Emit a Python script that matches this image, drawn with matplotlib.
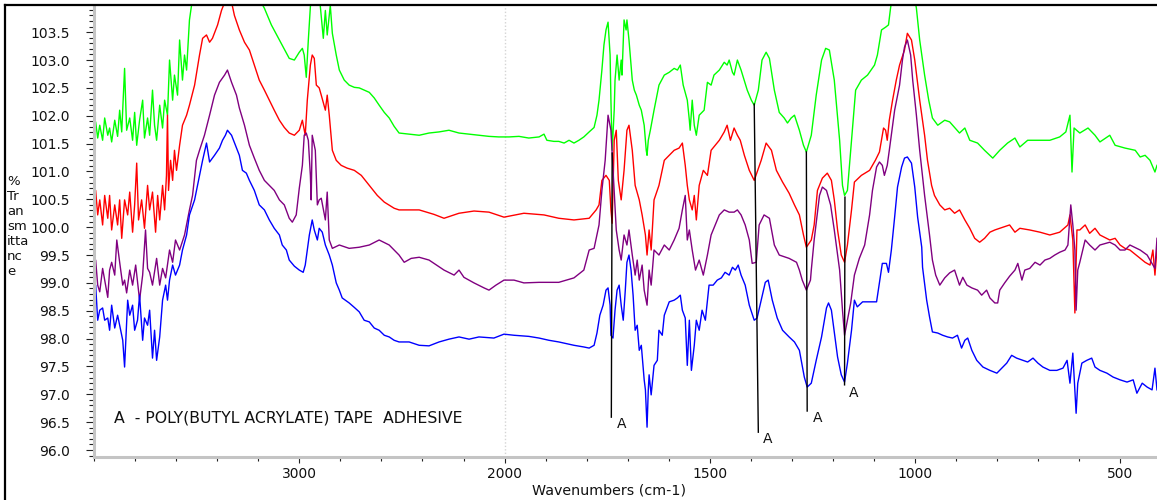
import numpy as np
import matplotlib
matplotlib.use('Agg')
import matplotlib.pyplot as plt
from matplotlib.lines import Line2D
from matplotlib.ticker import MultipleLocator, FixedLocator

plt.rcParams['font.family'] = ['DejaVu Sans']

# (wavenumber cm-1, %T)
GREEN = [(4000,101.74),(3992,101.89),(3982,101.60),(3972,101.83),(3958,101.56),(3948,101.96),(3933,101.65),
 (3924,101.78),(3914,101.53),(3899,101.92),(3885,101.63),(3875,102.10),(3865,101.71),(3851,102.85),(3841,101.74),
 (3826,101.96),(3812,101.56),(3802,102.06),(3792,101.47),(3778,101.92),(3763,102.28),(3754,101.60),(3739,101.96),
 (3729,101.65),(3715,102.46),(3705,101.83),(3695,101.56),(3680,102.19),(3666,101.78),(3656,102.28),(3642,102.01),
 (3632,103.00),(3617,102.28),(3608,102.73),(3593,102.37),(3583,103.36),(3569,102.64),(3559,103.09),(3549,102.82),
 (3535,103.72),(3525,103.98),(3486,104.43),(3340,104.61),(3219,104.25),(3170,103.93),(3136,103.63),(3097,103.36),
 (3049,103.03),(3024,103.00),(3000,103.14),(2985,103.21),(2976,103.09),(2966,102.69),(2956,103.36),(2946,103.98),
 (2937,104.43),(2917,104.43),(2898,103.98),(2883,103.39),(2873,103.89),(2864,103.45),(2849,103.98),(2839,103.48),
 (2820,103.09),(2805,102.82),(2781,102.64),(2757,102.55),(2732,102.51),(2708,102.50),(2684,102.46),(2659,102.42),
 (2635,102.32),(2611,102.19),(2586,102.06),(2562,101.96),(2538,101.81),(2514,101.69),(2465,101.67),(2416,101.65),
 (2368,101.69),(2319,101.71),(2271,101.74),(2222,101.69),(2173,101.67),(2125,101.65),(2076,101.63),(2028,101.62),
 (1989,101.62),(1965,101.63),(1941,101.60),(1916,101.62),(1904,101.67),(1897,101.56),(1880,101.54),(1868,101.54),
 (1855,101.51),(1843,101.56),(1831,101.51),(1819,101.56),(1807,101.62),(1794,101.71),(1782,101.79),(1775,102.01),
 (1770,102.28),(1763,102.82),(1758,103.27),(1753,103.54),(1748,103.68),(1743,103.09),(1741,102.28),(1738,101.38),
 (1733,102.10),(1731,102.64),(1726,103.09),(1721,102.64),(1716,103.00),(1714,102.73),(1709,103.72),(1704,103.54),
 (1702,103.72),(1697,103.36),(1689,102.64),(1684,102.46),(1679,102.37),(1672,102.19),(1667,102.10),(1660,101.83),
 (1655,101.38),(1653,101.29),(1650,101.56),(1645,101.74),(1636,102.10),(1624,102.55),(1611,102.73),(1599,102.78),
 (1587,102.85),(1579,102.82),(1572,102.91),(1565,102.55),(1555,102.28),(1550,101.92),(1548,101.74),(1543,102.28),
 (1538,101.83),(1533,101.65),(1526,102.01),(1514,102.10),(1506,102.60),(1497,102.55),(1490,102.73),(1477,102.82),
 (1465,102.96),(1458,102.91),(1453,103.00),(1445,102.78),(1441,102.73),(1433,103.00),(1424,102.82),(1409,102.46),
 (1399,102.28),(1392,102.19),(1382,102.46),(1373,103.00),(1363,103.14),(1355,103.03),(1343,102.46),(1331,102.06),
 (1319,101.96),(1311,101.87),(1302,101.96),(1294,102.01),(1282,101.74),(1272,101.47),(1265,101.35),(1253,101.65),
 (1241,102.37),(1228,103.00),(1218,103.21),(1209,103.18),(1197,102.64),(1184,101.56),(1177,100.75),(1172,100.57),
 (1165,100.66),(1155,101.56),(1145,102.46),(1131,102.64),(1116,102.73),(1099,102.91),(1092,103.09),(1082,103.54),
 (1072,103.59),(1065,103.63),(1060,103.93),(1050,104.43),(1026,104.79),(1009,104.43),(997,103.93),(989,103.36),
 (977,102.73),(967,102.28),(958,101.96),(945,101.83),(928,101.92),(916,101.89),(904,101.79),(892,101.69),
 (879,101.78),(867,101.56),(848,101.51),(831,101.38),(811,101.24),(794,101.38),(775,101.51),(757,101.60),
 (745,101.44),(726,101.56),(696,101.56),(672,101.56),(648,101.62),(633,101.71),(623,102.01),(618,100.99),
 (613,101.78),(599,101.69),(579,101.78),(562,101.65),(550,101.53),(526,101.65),(513,101.47),(489,101.42),
 (464,101.38),(452,101.26),(440,101.29),(428,101.20),(416,100.99),(411,101.11)]

RED = [(4000,100.40),(3992,100.66),(3982,100.22),(3972,100.49),(3958,100.04),(3948,100.57),(3933,100.16),
 (3924,100.57),(3914,99.95),(3899,100.40),(3885,100.04),(3875,100.49),(3865,99.80),(3851,100.49),(3836,100.22),
 (3826,100.63),(3812,99.91),(3802,100.40),(3792,101.15),(3783,100.13),(3768,100.49),(3754,99.98),(3739,100.75),
 (3729,100.31),(3715,100.63),(3700,99.91),(3690,100.57),(3680,100.13),(3666,100.75),(3656,100.31),(3647,100.93),
 (3642,102.01),(3637,100.66),(3627,101.20),(3617,100.84),(3608,101.38),(3598,101.02),(3583,101.47),(3569,101.83),
 (3549,102.01),(3535,102.19),(3510,102.55),(3486,103.09),(3471,103.39),(3452,103.45),(3437,103.32),(3423,103.39),
 (3398,103.63),(3379,103.89),(3360,104.07),(3330,104.04),(3316,103.80),(3292,103.54),(3267,103.32),(3243,103.18),
 (3219,102.91),(3195,102.64),(3170,102.46),(3146,102.28),(3122,102.10),(3097,101.92),(3073,101.79),(3049,101.69),
 (3024,101.65),(3000,101.74),(2985,101.92),(2971,101.65),(2961,102.28),(2946,102.91),(2937,103.09),(2927,103.03),
 (2917,102.55),(2903,102.50),(2893,102.37),(2873,102.10),(2864,102.37),(2854,102.01),(2839,101.38),(2820,101.20),
 (2796,101.11),(2767,101.06),(2732,101.02),(2698,100.93),(2659,100.75),(2620,100.57),(2586,100.45),(2538,100.34),
 (2514,100.31),(2416,100.31),(2344,100.23),(2295,100.16),(2222,100.25),(2149,100.29),(2076,100.27),(2003,100.18),
 (1953,100.25),(1904,100.22),(1868,100.16),(1831,100.13),(1794,100.16),(1777,100.31),(1770,100.40),(1763,100.84),
 (1753,100.93),(1745,100.84),(1741,100.31),(1738,100.07),(1733,101.56),(1728,101.74),(1723,100.84),(1716,100.49),
 (1709,101.02),(1702,101.74),(1697,101.83),(1689,101.38),(1682,100.75),(1672,100.49),(1665,100.22),(1657,99.86),
 (1653,99.50),(1648,99.95),(1643,99.59),(1636,100.49),(1624,100.75),(1611,101.20),(1599,101.29),(1587,101.38),
 (1575,101.42),(1567,101.51),(1560,101.11),(1555,100.75),(1550,100.49),(1543,100.31),(1538,100.57),(1533,100.13),
 (1526,100.75),(1516,101.02),(1506,100.93),(1497,101.38),(1487,101.47),(1477,101.56),(1465,101.71),(1458,101.83),
 (1450,101.56),(1441,101.78),(1433,101.65),(1426,101.56),(1416,101.29),(1404,101.02),(1392,100.84),(1385,100.99),
 (1375,101.20),(1363,101.51),(1350,101.38),(1338,101.02),(1323,100.81),(1307,100.61),(1294,100.40),(1282,100.22),
 (1272,99.86),(1265,99.64),(1253,99.77),(1246,100.04),(1238,100.66),(1226,100.88),(1214,100.97),(1204,100.84),
 (1197,100.49),(1189,99.95),(1180,99.50),(1172,99.37),(1165,99.68),(1155,100.31),(1148,100.81),(1131,100.93),
 (1111,101.02),(1097,101.20),(1087,101.35),(1077,101.78),(1072,101.74),(1068,101.56),(1063,101.92),(1055,102.28),
 (1046,102.64),(1038,102.91),(1026,103.18),(1019,103.48),(1009,103.36),(1001,103.00),(989,102.28),(977,101.65),
 (970,101.20),(960,100.75),(953,100.57),(940,100.40),(928,100.31),(916,100.34),(904,100.25),(892,100.31),
 (879,100.13),(867,99.98),(855,99.80),(843,99.73),(831,99.80),(818,99.91),(806,99.95),(794,99.98),(770,100.04),
 (757,99.91),(745,99.98),(721,99.95),(696,99.91),(672,99.86),(648,99.91),(628,100.04),(623,100.22),(616,99.77),
 (611,98.46),(606,99.95),(599,99.95),(586,100.04),(575,99.89),(562,99.98),(550,99.86),(526,99.77),(513,99.80),
 (501,99.68),(489,99.62),(477,99.59),(452,99.44),(440,99.37),(428,99.32),(421,99.59),(416,99.14),(411,99.62)]

PURPLE = [(4000,99.14),(3992,99.41),(3982,98.96),(3972,98.84),(3958,99.26),(3948,99.05),(3933,98.74),(3924,99.23),
 (3914,99.37),(3899,99.14),(3889,99.77),(3875,99.37),(3860,98.96),(3851,99.05),(3841,98.82),(3826,99.23),(3812,98.96),
 (3797,99.32),(3778,98.69),(3763,99.14),(3749,99.95),(3739,99.26),(3729,99.19),(3715,98.96),(3695,99.44),(3680,98.96),
 (3666,99.26),(3651,99.09),(3632,99.59),(3617,99.37),(3603,99.77),(3583,99.59),(3559,99.86),(3535,100.31),(3520,100.57),
 (3501,101.20),(3486,101.38),(3462,101.65),(3437,102.01),(3413,102.37),(3389,102.60),(3364,102.73),(3350,102.82),
 (3330,102.60),(3306,102.37),(3292,102.14),(3267,101.83),(3243,101.47),(3219,101.24),(3195,101.02),(3170,100.84),
 (3146,100.75),(3122,100.66),(3097,100.49),(3073,100.40),(3049,100.16),(3034,100.09),(3015,100.22),(3000,100.70),
 (2985,101.11),(2976,101.65),(2966,101.69),(2956,101.56),(2946,100.93),(2942,100.49),(2937,101.65),(2922,101.38),
 (2912,100.40),(2903,100.49),(2893,100.52),(2873,100.13),(2864,100.63),(2854,99.77),(2839,99.62),(2805,99.68),
 (2757,99.62),(2708,99.64),(2659,99.68),(2611,99.77),(2562,99.68),(2514,99.50),(2489,99.37),(2455,99.44),(2416,99.46),
 (2368,99.41),(2295,99.23),(2246,99.14),(2222,99.23),(2198,99.10),(2149,99.00),(2100,98.91),(2076,98.87),(2042,98.96),
 (2003,99.05),(1977,99.05),(1953,99.00),(1916,99.01),(1868,99.01),(1831,99.09),(1807,99.23),(1794,99.59),(1782,99.62),
 (1770,100.04),(1763,100.66),(1755,101.20),(1748,102.01),(1741,101.74),(1733,100.66),(1728,99.95),(1721,99.59),
 (1716,99.41),(1709,99.86),(1702,99.68),(1697,99.95),(1689,99.50),(1682,99.14),(1677,99.41),(1672,99.05),(1665,99.32),
 (1660,98.87),(1653,98.60),(1648,99.23),(1643,98.96),(1636,99.59),(1624,99.50),(1611,99.68),(1599,99.59),(1587,99.77),
 (1575,99.98),(1567,100.31),(1560,100.57),(1555,99.77),(1550,99.95),(1543,99.59),(1535,99.23),(1526,99.41),
 (1516,99.14),(1506,99.50),(1497,99.86),(1487,100.04),(1477,100.22),(1465,100.31),(1453,100.27),(1441,100.27),
 (1433,100.31),(1424,100.22),(1414,100.04),(1404,99.77),(1397,99.35),(1387,99.37),(1380,100.04),(1368,100.22),
 (1355,100.16),(1343,99.68),(1331,99.50),(1307,99.44),(1289,99.37),(1282,99.23),(1275,99.05),(1265,98.87),
 (1255,99.05),(1253,99.23),(1246,99.77),(1233,100.57),(1226,100.72),(1216,100.66),(1206,100.40),(1197,99.95),
 (1184,99.23),(1177,98.51),(1172,98.06),(1165,98.33),(1157,98.64),(1148,99.14),(1136,99.44),(1123,99.68),
 (1111,100.22),(1104,100.66),(1094,101.08),(1087,101.17),(1080,101.11),(1075,100.93),(1068,101.11),(1063,101.38),
 (1050,102.10),(1038,102.55),(1031,103.00),(1026,103.23),(1019,103.36),(1011,103.09),(1006,102.64),(997,102.01),
 (989,101.38),(977,100.57),(965,99.86),(958,99.41),(950,99.14),(940,98.96),(928,99.09),(916,99.18),(904,99.23),
 (892,98.96),(884,99.10),(874,98.96),(862,98.91),(848,98.87),(838,98.78),(826,98.87),(818,98.73),(806,98.64),
 (799,98.64),(794,98.87),(782,99.00),(770,99.12),(757,99.23),(750,99.35),(740,99.05),(733,99.23),(721,99.26),
 (708,99.37),(696,99.32),(684,99.41),(672,99.44),(660,99.50),(648,99.55),(635,99.59),(628,99.68),(621,100.40),
 (616,100.04),(611,99.59),(608,98.51),(604,99.23),(599,99.37),(586,99.77),(575,99.68),(562,99.59),(550,99.68),
 (526,99.73),(513,99.68),(501,99.59),(489,99.59),(477,99.68),(452,99.59),(435,99.50),(428,99.41),(416,99.26),(411,99.80)]

BLUE = [(4000,98.73),(3992,98.96),(3982,98.33),(3972,98.51),(3958,98.55),(3948,98.33),(3933,98.37),(3924,98.15),
 (3914,98.60),(3899,98.19),(3885,98.42),(3875,98.24),(3860,97.97),(3851,97.49),(3836,98.69),(3826,98.42),(3812,98.60),
 (3802,98.15),(3788,98.33),(3778,98.78),(3763,97.97),(3754,98.37),(3739,98.24),(3729,98.51),(3715,97.65),(3705,98.15),
 (3695,97.61),(3680,98.03),(3666,98.69),(3651,98.96),(3642,98.69),(3632,99.05),(3617,99.32),(3603,99.14),(3583,99.32),
 (3569,99.59),(3549,99.86),(3535,100.22),(3510,100.49),(3486,100.93),(3471,101.20),(3462,101.35),(3452,101.51),
 (3437,101.17),(3413,101.29),(3389,101.42),(3374,101.56),(3360,101.65),(3350,101.74),(3330,101.65),(3311,101.47),
 (3292,101.29),(3277,101.02),(3258,100.97),(3243,100.84),(3219,100.66),(3195,100.40),(3170,100.31),(3146,100.13),
 (3122,99.98),(3097,99.86),(3083,99.68),(3063,99.59),(3049,99.41),(3024,99.30),(3000,99.23),(2981,99.19),(2971,99.32),
 (2961,99.59),(2951,99.86),(2937,100.13),(2927,99.95),(2912,99.77),(2903,99.98),(2888,99.91),(2873,99.68),(2854,99.50),
 (2839,99.32),(2820,99.00),(2805,98.87),(2791,98.73),(2776,98.69),(2757,98.64),(2732,98.56),(2708,98.48),(2684,98.33),
 (2659,98.30),(2635,98.19),(2611,98.15),(2586,98.06),(2562,98.03),(2538,97.97),(2514,97.94),(2465,97.94),(2416,97.88),
 (2368,97.87),(2319,97.94),(2271,97.99),(2222,98.03),(2173,97.99),(2125,98.03),(2052,98.01),(2003,98.08),(1977,98.06),
 (1941,98.04),(1916,98.01),(1892,97.97),(1868,97.94),(1831,97.88),(1807,97.85),(1794,97.83),(1782,97.88),(1775,98.10),
 (1768,98.42),(1760,98.60),(1753,98.87),(1748,98.91),(1743,98.60),(1741,98.06),(1736,98.01),(1731,98.51),(1726,98.87),
 (1721,98.96),(1716,98.60),(1711,98.33),(1706,98.87),(1702,99.37),(1697,99.50),(1692,99.23),(1687,98.78),(1682,98.15),
 (1677,98.24),(1672,97.79),(1667,97.88),(1660,97.26),(1657,97.08),(1653,96.41),(1650,97.08),(1648,97.35),(1643,96.99),
 (1636,97.52),(1628,97.61),(1624,98.15),(1616,98.06),(1611,98.42),(1599,98.66),(1587,98.69),(1579,98.73),(1572,98.78),
 (1567,98.51),(1560,98.37),(1555,97.52),(1550,98.33),(1545,97.43),(1538,97.88),(1533,98.33),(1526,98.15),(1519,98.51),
 (1511,98.33),(1506,98.69),(1502,98.96),(1492,98.96),(1482,99.05),(1472,99.09),(1463,99.19),(1453,99.14),(1445,99.28),
 (1438,99.23),(1431,99.32),(1424,99.14),(1414,98.96),(1404,98.60),(1392,98.33),(1385,98.37),(1375,98.69),(1365,99.01),
 (1358,99.05),(1348,98.69),(1336,98.37),(1323,98.15),(1307,98.03),(1294,97.94),(1282,97.79),(1270,97.31),(1263,97.13),
 (1253,97.20),(1241,97.61),(1228,98.03),(1216,98.55),(1211,98.64),(1204,98.51),(1197,98.12),(1189,97.67),(1180,97.35),
 (1172,97.22),(1165,97.56),(1155,98.15),(1148,98.69),(1141,98.57),(1128,98.66),(1111,98.66),(1094,98.66),(1087,99.00),
 (1080,99.35),(1070,99.35),(1065,99.19),(1058,99.59),(1050,100.18),(1043,100.72),(1033,101.08),(1026,101.24),
 (1019,101.26),(1009,101.15),(1001,100.72),(994,100.18),(984,99.64),(982,99.28),(972,98.69),(965,98.39),(958,98.12),
 (945,98.10),(933,98.06),(921,98.03),(909,98.01),(897,98.06),(887,97.83),(879,97.97),(872,98.01),(862,97.79),
 (850,97.61),(835,97.49),(818,97.43),(801,97.38),(789,97.47),(777,97.56),(765,97.70),(753,97.65),(738,97.61),
 (726,97.58),(713,97.65),(701,97.56),(689,97.49),(672,97.43),(655,97.43),(640,97.47),(630,97.61),(623,97.20),
 (616,97.74),(608,96.66),(604,97.20),(594,97.56),(582,97.61),(570,97.65),(562,97.49),(550,97.43),(533,97.38),
 (518,97.31),(501,97.26),(484,97.22),(469,97.26),(460,97.02),(447,97.20),(435,97.13),(423,97.08),(416,97.47),(411,97.08)]

SERIES = [('green', GREEN, '#00ff00'), ('red', RED, '#ff0000'),
          ('purple', PURPLE, '#800080'), ('blue', BLUE, '#0000ff')]

# band markers
MARK_TOP_WN = [1738, 1392, 1265, 1171]
MARK_TOP_T = [101.33, 102.21, 101.35, 100.54]
MARK_BOT_WN = [1740, 1382, 1263, 1172]
MARK_BOT_T = [96.59, 96.32, 96.70, 97.17]
MARK_LABEL_WN = [1714, 1360, 1237, 1151]
MARK_LABEL_T = [96.46, 96.20, 96.57, 97.03]
MARK_TEXT = 'A'

LEGEND_TEXT = 'A  - POLY(BUTYL ACRYLATE) TAPE  ADHESIVE'
LEGEND_POS = (3904, 96.57)

X_MAJOR = [3000, 2000, 1500, 1000, 500]
X_MINOR = [4000, 3800, 3600, 3400, 3200, 2800, 2600, 2400, 2200,
           1900, 1800, 1700, 1600, 1400, 1300, 1200, 1100, 900, 800, 700, 600, 400]
Y_MAJOR = [96.0, 96.5, 97.0, 97.5, 98.0, 98.5, 99.0, 99.5, 100.0, 100.5,
           101.0, 101.5, 102.0, 102.5, 103.0, 103.5]
X_LABEL = 'Wavenumbers (cm-1)'
Y_LABEL = '%\nTr\nan\nsm\nitta\nnc\ne'

W, H = 1157, 500
fig = plt.figure(figsize=(W / 100, H / 100), dpi=100)
ax = fig.add_axes([94 / W, 43 / H, 1063 / W, 451 / H])


def fwd(w):
    w = np.asarray(w, dtype=float)
    return np.where(w <= 2000, w, 2000 + (w - 2000) * 0.5)


def inv(u):
    u = np.asarray(u, dtype=float)
    return np.where(u <= 2000, u, 2000 + (u - 2000) * 2.0)


ax.set_xscale('function', functions=(fwd, inv))

ax.axvline(2000, color='#d4d4d4', ls=(0, (1, 1.5)), lw=1.0, zorder=0)

for name, data, col in SERIES:
    arr = np.array(data)
    ax.plot(arr[:, 0], arr[:, 1], color=col, lw=1.0, zorder=2)

for i in range(len(MARK_TOP_WN)):
    ax.plot([MARK_TOP_WN[i], MARK_BOT_WN[i]], [MARK_TOP_T[i], MARK_BOT_T[i]],
            color='black', lw=1.0, zorder=3)
    ax.text(MARK_LABEL_WN[i], MARK_LABEL_T[i], MARK_TEXT, ha='center', va='center',
            fontsize=10, color='#111111', zorder=4)

ax.text(LEGEND_POS[0], LEGEND_POS[1], LEGEND_TEXT, ha='left', va='center',
        fontsize=11.3, color='#111111')

ax.set_xlim(4000, 411)
ax.set_ylim(95.875, 103.97)

ax.xaxis.set_major_locator(FixedLocator(X_MAJOR))
ax.xaxis.set_minor_locator(FixedLocator(X_MINOR))
ax.set_xticklabels([str(v) for v in X_MAJOR])
ax.yaxis.set_major_locator(FixedLocator(Y_MAJOR))
ax.yaxis.set_minor_locator(MultipleLocator(0.1))
ax.set_yticklabels([f'{v:.1f}' for v in Y_MAJOR])

for s in ['top', 'right']:
    ax.spines[s].set_visible(False)
for s in ['left', 'bottom']:
    ax.spines[s].set_color('#c4c4c4')
    ax.spines[s].set_linewidth(2.2)

ax.tick_params(axis='y', which='major', direction='out', length=6, width=0.8,
               color='#222222', pad=11.5, labelsize=10, labelcolor='#111111')
ax.tick_params(axis='y', which='minor', direction='out', length=3.5, width=0.8, color='#222222')
ax.tick_params(axis='x', which='major', direction='out', length=4.5, width=0.8,
               color='#222222', pad=2.5, labelsize=10, labelcolor='#111111')
ax.tick_params(axis='x', which='minor', direction='out', length=3, width=0.8, color='#222222')

fig.text(609 / W, 1 - 490 / H, X_LABEL, ha='center', va='center', fontsize=10.3, color='#111111')
fig.text(7 / W, 1 - 175 / H, Y_LABEL, ha='left', va='top', fontsize=9.5,
         linespacing=1.2, color='#111111')

# outer frame (top and left edges visible)
fig.add_artist(Line2D([5 / W, 1], [1 - 5 / H, 1 - 5 / H], color='black', lw=1.6,
                      transform=fig.transFigure))
fig.add_artist(Line2D([5 / W, 5 / W], [0, 1 - 5 / H], color='black', lw=1.6,
                      transform=fig.transFigure))

fig.savefig('out.png', dpi=100)
